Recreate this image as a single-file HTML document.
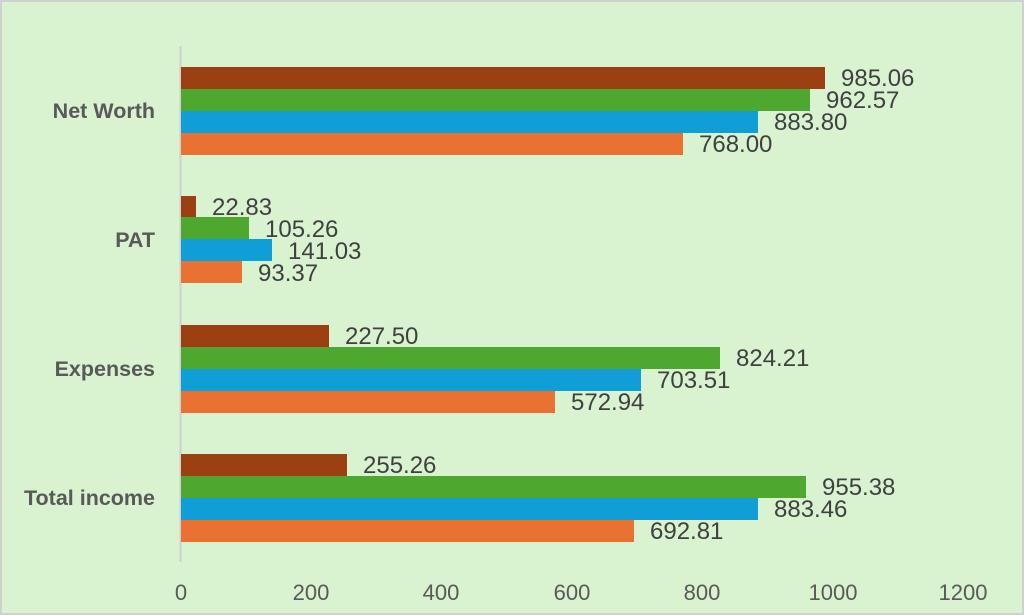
<!DOCTYPE html>
<html><head><meta charset="utf-8"><style>
html,body{margin:0;padding:0;background:#fff}
svg{display:block}
</style></head><body>
<svg width="1024" height="615" xmlns="http://www.w3.org/2000/svg" font-family="Liberation Sans, sans-serif">
<rect x="1" y="1" width="1022" height="613" fill="#d9f2d0" stroke="#d0d0d0" stroke-width="2"/>
<line x1="180.5" y1="46" x2="180.5" y2="562" stroke="#d0d0d0" stroke-width="2"/>
<g font-size="22" fill="#595959" text-anchor="middle">
<text x="181" y="600">0</text><text x="311" y="600">200</text><text x="441" y="600">400</text><text x="572" y="600">600</text><text x="702" y="600">800</text><text x="833" y="600">1000</text><text x="963" y="600">1200</text>
</g>
<g font-size="21.5" font-weight="bold" fill="#595959" text-anchor="end">
<text x="155" y="118">Net Worth</text>
<text x="155" y="247">PAT</text>
<text x="155" y="376">Expenses</text>
<text x="155" y="505">Total income</text>
</g>
<g>
<rect x="181" y="67" width="644" height="22" fill="#9c3f11"/>
<rect x="181" y="89" width="629" height="22" fill="#4ea72e"/>
<rect x="181" y="111" width="577" height="22" fill="#0f9ed5"/>
<rect x="181" y="133" width="502" height="22" fill="#e97132"/>
<rect x="181" y="196" width="15" height="21" fill="#9c3f11"/>
<rect x="181" y="217" width="68" height="22" fill="#4ea72e"/>
<rect x="181" y="239" width="91" height="22" fill="#0f9ed5"/>
<rect x="181" y="261" width="61" height="22" fill="#e97132"/>
<rect x="181" y="325" width="148" height="22" fill="#9c3f11"/>
<rect x="181" y="347" width="539" height="22" fill="#4ea72e"/>
<rect x="181" y="369" width="460" height="22" fill="#0f9ed5"/>
<rect x="181" y="391" width="374" height="22" fill="#e97132"/>
<rect x="181" y="454" width="166" height="22" fill="#9c3f11"/>
<rect x="181" y="476" width="625" height="22" fill="#4ea72e"/>
<rect x="181" y="498" width="577" height="22" fill="#0f9ed5"/>
<rect x="181" y="520" width="453" height="22" fill="#e97132"/>
</g>
<g font-size="24" fill="#404040">
<text x="841" y="86">985.06</text>
<text x="826" y="108">962.57</text>
<text x="774" y="130">883.80</text>
<text x="699" y="152">768.00</text>
<text x="212" y="215">22.83</text>
<text x="265" y="237">105.26</text>
<text x="288" y="259">141.03</text>
<text x="258" y="281">93.37</text>
<text x="345" y="344">227.50</text>
<text x="736" y="366">824.21</text>
<text x="657" y="388">703.51</text>
<text x="571" y="410">572.94</text>
<text x="363" y="473">255.26</text>
<text x="822" y="495">955.38</text>
<text x="774" y="517">883.46</text>
<text x="650" y="539">692.81</text>
</g>
</svg>
</body></html>
